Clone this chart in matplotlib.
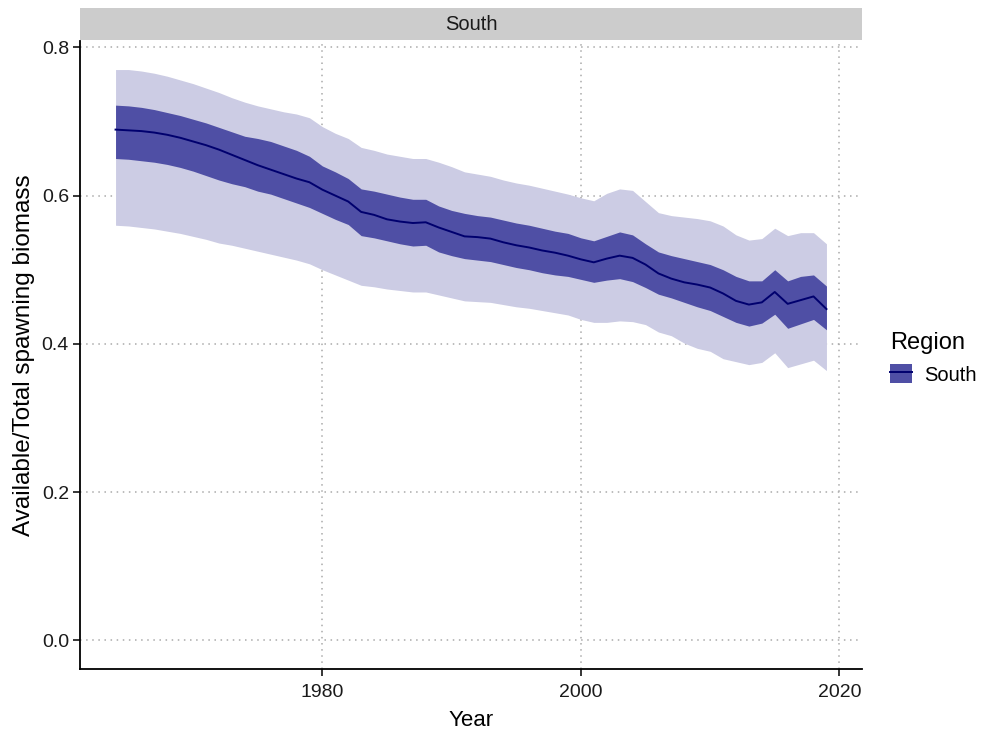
import matplotlib
matplotlib.use("Agg")
import matplotlib.pyplot as plt
from matplotlib.patches import Patch, Rectangle
from matplotlib.lines import Line2D

plt.rcParams['font.family'] = ['Liberation Sans', 'DejaVu Sans']

# data
years = list(range(1964, 2020))
median = [0.689, 0.688, 0.687, 0.685, 0.682, 0.678, 0.673, 0.668, 0.662, 0.655,
          0.648, 0.641, 0.635, 0.629, 0.623, 0.618, 0.608, 0.600, 0.592, 0.578,
          0.574, 0.568, 0.565, 0.563, 0.564, 0.557, 0.551, 0.545, 0.544, 0.542,
          0.537, 0.533, 0.530, 0.526, 0.523, 0.519, 0.514, 0.510, 0.515, 0.519,
          0.516, 0.507, 0.495, 0.488, 0.483, 0.480, 0.476, 0.468, 0.458, 0.453,
          0.456, 0.470, 0.454, 0.459, 0.464, 0.447]
inner_hi = [0.722, 0.721, 0.719, 0.716, 0.712, 0.708, 0.703, 0.698, 0.692, 0.686,
            0.680, 0.677, 0.673, 0.667, 0.661, 0.653, 0.640, 0.632, 0.623, 0.609,
            0.606, 0.602, 0.598, 0.595, 0.595, 0.586, 0.580, 0.576, 0.573, 0.571,
            0.567, 0.563, 0.560, 0.556, 0.552, 0.549, 0.543, 0.539, 0.545, 0.551,
            0.547, 0.535, 0.524, 0.519, 0.515, 0.511, 0.507, 0.500, 0.491, 0.485,
            0.485, 0.500, 0.485, 0.491, 0.493, 0.478]
inner_lo = [0.650, 0.649, 0.647, 0.645, 0.642, 0.638, 0.633, 0.627, 0.621, 0.616,
            0.612, 0.606, 0.602, 0.596, 0.590, 0.584, 0.576, 0.568, 0.561, 0.546,
            0.543, 0.539, 0.535, 0.532, 0.533, 0.524, 0.519, 0.515, 0.513, 0.511,
            0.507, 0.503, 0.500, 0.496, 0.493, 0.491, 0.487, 0.483, 0.486, 0.488,
            0.484, 0.476, 0.467, 0.462, 0.456, 0.450, 0.445, 0.437, 0.429, 0.424,
            0.428, 0.440, 0.421, 0.427, 0.433, 0.419]
outer_hi = [0.770, 0.770, 0.768, 0.765, 0.761, 0.756, 0.751, 0.745, 0.739, 0.732,
            0.726, 0.721, 0.717, 0.713, 0.710, 0.705, 0.693, 0.684, 0.677, 0.665,
            0.661, 0.656, 0.653, 0.650, 0.650, 0.645, 0.639, 0.632, 0.629, 0.626,
            0.621, 0.617, 0.614, 0.610, 0.606, 0.602, 0.597, 0.593, 0.603, 0.609,
            0.607, 0.592, 0.577, 0.573, 0.571, 0.569, 0.566, 0.559, 0.547, 0.540,
            0.542, 0.556, 0.546, 0.550, 0.550, 0.535]
outer_lo = [0.560, 0.559, 0.557, 0.555, 0.552, 0.549, 0.545, 0.541, 0.536, 0.533,
            0.529, 0.525, 0.521, 0.517, 0.513, 0.508, 0.500, 0.493, 0.486, 0.479,
            0.477, 0.474, 0.472, 0.470, 0.470, 0.466, 0.462, 0.458, 0.457, 0.456,
            0.453, 0.450, 0.448, 0.445, 0.442, 0.439, 0.433, 0.429, 0.429, 0.431,
            0.430, 0.426, 0.416, 0.411, 0.401, 0.394, 0.390, 0.380, 0.376, 0.372,
            0.375, 0.388, 0.368, 0.373, 0.378, 0.364]

outer_col = '#CCCCE4'
inner_col = '#4F4FA5'
line_col = '#00006E'

W, H = 983, 729
fig = plt.figure(figsize=(W / 100, H / 100), dpi=100)
ax = fig.add_axes([80 / W, 1 - 669 / H, (862 - 80) / W, (669 - 41) / H])

ax.fill_between(years, outer_lo, outer_hi, color=outer_col, lw=0, zorder=2)
ax.fill_between(years, inner_lo, inner_hi, color=inner_col, lw=0, zorder=3)
ax.plot(years, median, color=line_col, lw=1.4, zorder=4)

ax.set_xlim(1961.25, 2021.75)
ax.set_ylim(-0.0385, 0.8085)
ax.set_xticks([1980, 2000, 2020])
ax.set_yticks([0.0, 0.2, 0.4, 0.6, 0.8])
ax.set_yticklabels(['0.0', '0.2', '0.4', '0.6', '0.8'])
ax.grid(True, color='#AAAAAA', linestyle=(0, (1, 3)), lw=1.1, zorder=1)
ax.set_axisbelow(True)

for s in ['top', 'right']:
    ax.spines[s].set_visible(False)
for s in ['left', 'bottom']:
    ax.spines[s].set_linewidth(1.3)
ax.tick_params(axis='both', length=5, width=1.1, color='black',
               labelsize=14, labelcolor='#1A1A1A', pad=3)
ax.tick_params(axis='x', pad=6)

ax.set_xlabel('Year', fontsize=16, labelpad=6)
ax.set_ylabel('Available/Total spawning biomass', fontsize=17.5, labelpad=5)

# facet strip
strip = Rectangle((80 / W, 1 - 40 / H), (862 - 80) / W, 32 / H,
                  transform=fig.transFigure, facecolor='#CCCCCC',
                  edgecolor='none')
fig.patches.append(strip)
fig.text((80 + 862) / 2 / W, 1 - 24 / H, 'South', ha='center', va='center',
         fontsize=14.5, color='#1A1A1A')

handle = (Patch(facecolor=inner_col, edgecolor='none'),
          Line2D([], [], color=line_col, lw=1.4))
leg = fig.legend([handle], ['South'], title='Region',
                 loc='upper left', bbox_to_anchor=(878 / W, 1 - 320 / H),
                 frameon=False, fontsize=14.5, title_fontsize=17,
                 handlelength=1.1, handleheight=1.1, handletextpad=0.6,
                 borderaxespad=0.2)
leg._legend_box.align = 'left'

fig.savefig('out.png', dpi=100)
